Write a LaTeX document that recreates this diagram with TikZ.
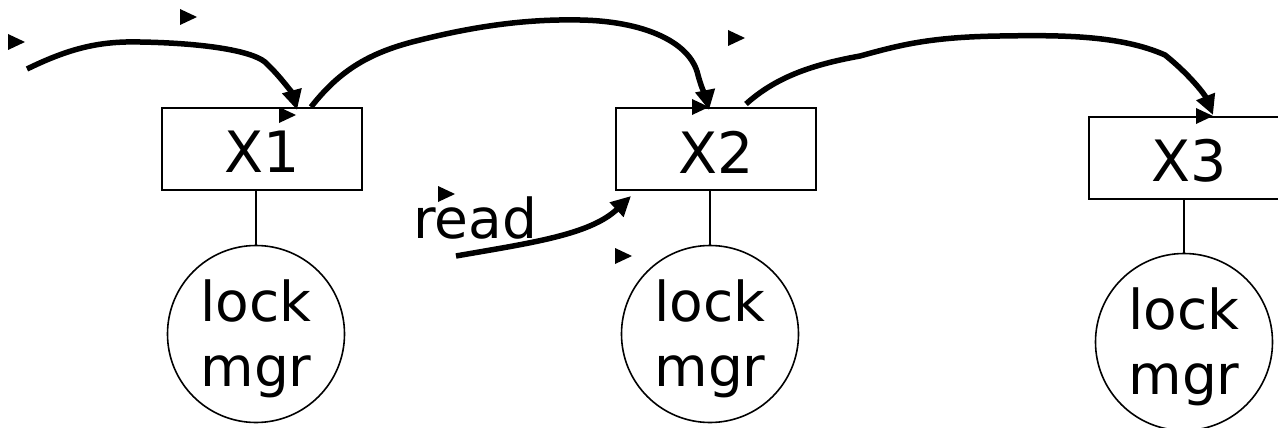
\documentclass[tikz,border=0pt]{standalone}
\usepackage{fontspec}
\setmainfont{DejaVu Sans}
\usetikzlibrary{arrows.meta}
\begin{document}
\begin{tikzpicture}[x=1pt,y=-1pt,
  box/.style={draw,line width=1.6pt,minimum width=200pt,minimum height=82pt,inner sep=0pt,font=\fontsize{57}{60}\selectfont},
  mgr/.style={draw,circle,line width=1.6pt,minimum size=177pt,inner sep=0pt,align=center,font=\fontsize{55}{65}\selectfont},
  link/.style={line width=1.4pt},
  flow/.style={line width=5.5pt,-{Triangle[length=20pt,width=19pt]}},
  bullmark/.style={fill=black}
]
\useasboundingbox (0,0) rectangle (1278,428);
% boxes
\node[box] (X1) at (262,149) {\raisebox{-3pt}[\height][\depth]{X1}};
\node[box] (X2) at (716,149) {\raisebox{-3pt}[\height][\depth]{X2}};
\node[box] (X3) at (1189,158) {\raisebox{-3pt}[\height][\depth]{X3}};
% lock managers
\node[mgr] (L1) at (256,334) {\raisebox{-5pt}[\height][\depth]{\parbox{120pt}{\centering lock\\mgr}}};
\node[mgr] (L2) at (710,334) {\raisebox{-5pt}[\height][\depth]{\parbox{120pt}{\centering lock\\mgr}}};
\node[mgr] (L3) at (1184,342) {\raisebox{-5pt}[\height][\depth]{\parbox{120pt}{\centering lock\\mgr}}};
\draw[link] (L1.north) -- (L1.north |- X1.south);
\draw[link] (L2.north) -- (L2.north |- X2.south);
\draw[link] (L3.north) -- (L3.north |- X3.south);
% read label
\node[font=\fontsize{55}{58}\selectfont,inner sep=0pt,anchor=base west] (rd) at (413,238) {read};
% coordinates
\coordinate (s1) at (27,69);
\coordinate (t1) at (297,110);
\coordinate (s2) at (311,107);
\coordinate (t2) at (709,110);
\coordinate (s3) at (746,104);
\coordinate (t3) at (1213,115);
\coordinate (s4) at (456,256);
\coordinate (t4) at (631,196);
% flows
\draw[flow] (s1) .. controls (70,48) and (100,41) .. (140,42) .. controls (200,43) and (250,50) .. (265,62) .. controls (282,78) and (293,95) .. (t1);
\draw[flow] (s2) .. controls (340,70) and (370,52) .. (420,40) .. controls (480,25) and (530,19) .. (580,20) .. controls (640,21) and (690,40) .. (698,75) .. controls (702,90) and (707,100) .. (t2);
\draw[flow] (s3) .. controls (775,78) and (810,65) .. (860,56) .. controls (900,45) and (930,37) .. (1000,36) .. controls (1060,35) and (1120,35) .. (1165,55) .. controls (1190,75) and (1205,95) .. (t3);
\draw[flow] (s4) .. controls (530,243) and (590,235) .. (t4);
% stray bullet marks
\foreach \x/\y in {8/34, 180/9, 279/107, 728/30, 692/99, 1196/108, 438/186, 615/248}
  \fill[bullmark] (\x,\y) -- ++(17,8) -- ++(-17,8) -- cycle;
\end{tikzpicture}
\end{document}
